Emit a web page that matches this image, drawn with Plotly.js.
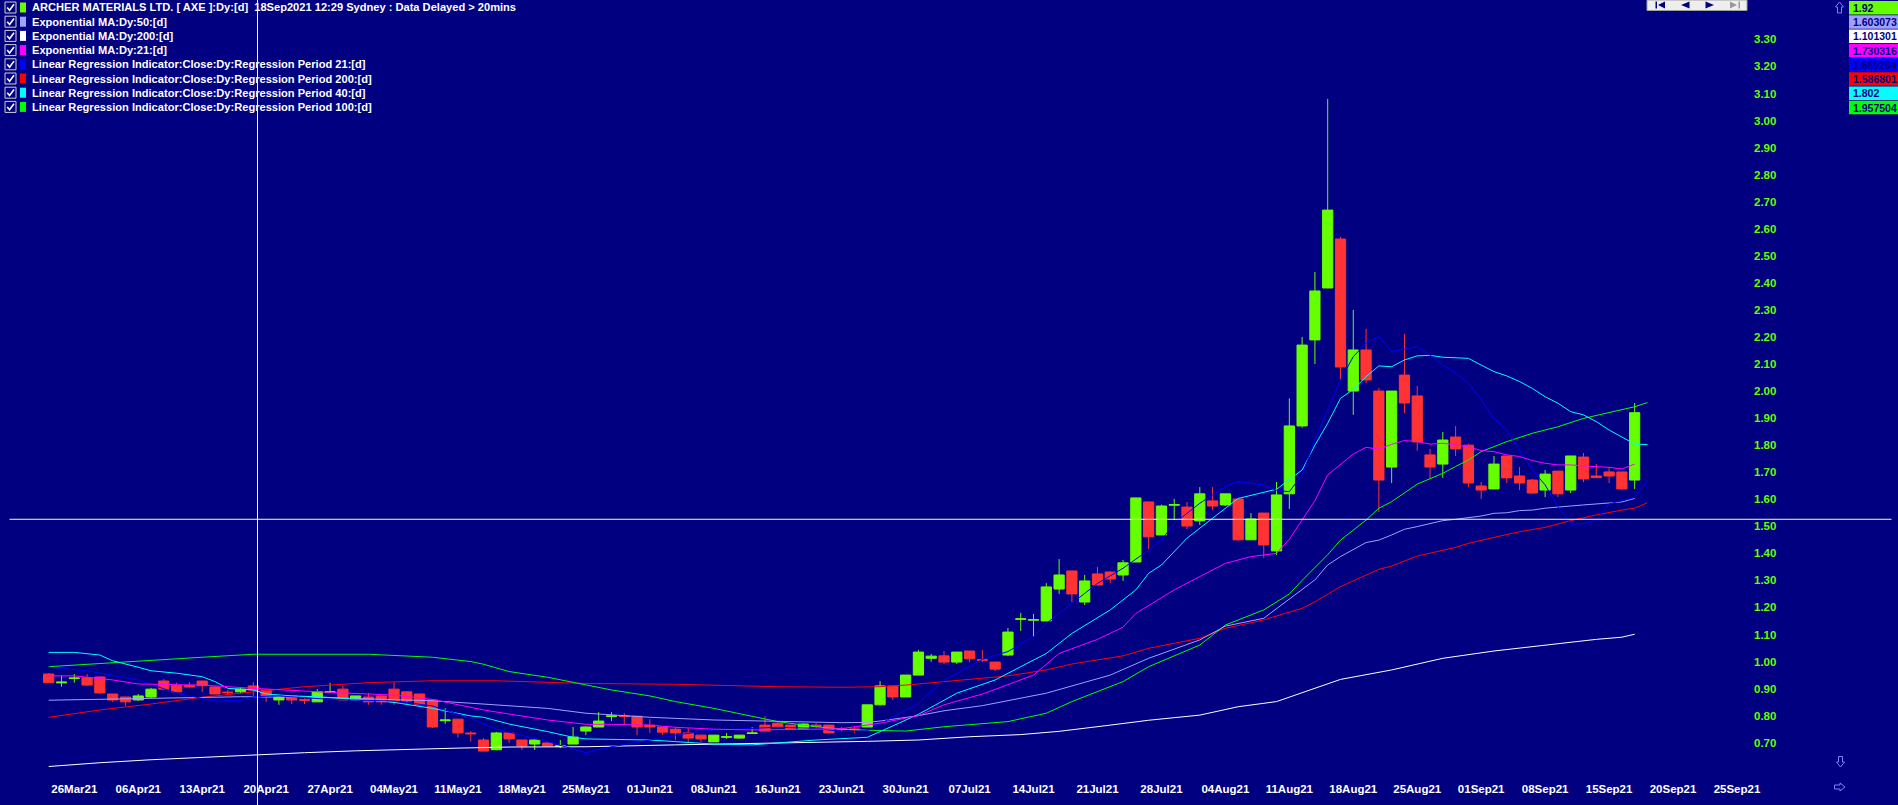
<!DOCTYPE html>
<html><head><meta charset="utf-8">
<script src="https://cdn.plot.ly/plotly-3.0.1.min.js"></script>
<style>html,body{margin:0;padding:0;background:#000080;overflow:hidden}</style>
</head><body><div id="chart" style="width:1898px;height:805px"></div>
<script>
// ---------- DATA ----------
const openP = [0.954,0.921,0.937,0.940,0.943,0.880,0.869,0.858,0.869,0.928,0.911,0.911,0.928,0.906,0.887,0.888,0.910,0.895,0.858,0.873,0.859,0.851,0.886,0.898,0.858,0.869,0.873,0.898,0.888,0.880,
0.858,0.781,0.787,0.736,0.710,0.674,0.736,0.710,0.695,0.699,0.686,0.695,0.743,0.758,0.797,0.799,0.798,0.765,0.758,0.750,0.736,0.728,0.703,0.720,0.717,0.734,0.765,0.772,0.765,0.750,
0.765,0.765,0.751,0.751,0.758,0.840,0.910,0.869,0.950,1.012,1.021,0.998,1.039,1.007,0.998,1.024,1.156,1.153,1.150,1.268,1.335,1.220,1.324,1.331,1.320,1.368,1.590,1.468,1.578,1.571,
1.520,1.594,1.579,1.601,1.450,1.549,1.409,1.620,1.871,2.189,2.381,2.562,2.000,2.152,2.000,1.719,2.059,1.982,1.764,1.730,1.830,1.800,1.649,1.638,1.760,1.686,1.671,1.634,1.704,1.634,
1.756,1.686,1.701,1.701,1.671];
const highP = [0.958,0.948,0.954,0.954,0.945,0.880,0.869,0.880,0.903,0.935,0.922,0.924,0.929,0.908,0.895,0.906,0.924,0.896,0.870,0.875,0.873,0.898,0.921,0.910,0.873,0.884,0.875,0.924,0.888,0.880,
0.858,0.828,0.787,0.743,0.717,0.740,0.736,0.710,0.711,0.703,0.710,0.758,0.760,0.813,0.813,0.810,0.800,0.787,0.758,0.758,0.754,0.728,0.728,0.736,0.728,0.758,0.798,0.780,0.765,0.772,
0.772,0.765,0.758,0.758,0.840,0.928,0.910,0.950,1.043,1.028,1.039,1.035,1.039,1.043,0.998,1.124,1.180,1.176,1.290,1.379,1.335,1.320,1.350,1.335,1.376,1.605,1.592,1.580,1.601,1.590,
1.645,1.645,1.620,1.601,1.549,1.549,1.664,1.973,2.200,2.440,3.080,2.570,2.300,2.230,2.011,2.000,2.211,2.019,1.786,1.849,1.871,1.805,1.664,1.760,1.760,1.719,1.675,1.708,1.704,1.760,
1.771,1.730,1.719,1.701,1.956];
const lowP = [0.922,0.907,0.922,0.911,0.880,0.851,0.836,0.854,0.865,0.896,0.888,0.905,0.888,0.880,0.879,0.882,0.873,0.851,0.840,0.843,0.843,0.851,0.886,0.858,0.854,0.840,0.840,0.840,0.840,0.838,
0.754,0.770,0.719,0.704,0.669,0.672,0.699,0.673,0.673,0.686,0.680,0.695,0.728,0.758,0.780,0.769,0.728,0.736,0.728,0.710,0.699,0.703,0.703,0.714,0.714,0.732,0.743,0.754,0.750,0.750,
0.750,0.736,0.739,0.736,0.758,0.838,0.858,0.869,0.950,0.999,0.991,0.991,0.998,0.998,0.965,1.020,1.113,1.091,1.150,1.250,1.220,1.209,1.283,1.290,1.298,1.368,1.416,1.468,1.523,1.490,
1.505,1.560,1.575,1.447,1.450,1.383,1.394,1.564,1.864,2.100,2.381,2.041,1.912,2.030,1.553,1.660,1.919,1.779,1.675,1.679,1.760,1.645,1.601,1.638,1.660,1.634,1.620,1.608,1.608,1.623,
1.664,1.679,1.660,1.634,1.638];
const closeP = [0.922,0.924,0.939,0.913,0.884,0.858,0.851,0.873,0.898,0.898,0.888,0.906,0.911,0.880,0.885,0.898,0.895,0.869,0.869,0.858,0.857,0.888,0.888,0.858,0.873,0.851,0.851,0.851,0.854,0.840,
0.758,0.784,0.736,0.733,0.669,0.736,0.714,0.688,0.710,0.688,0.688,0.721,0.758,0.780,0.799,0.797,0.758,0.758,0.739,0.736,0.717,0.714,0.728,0.722,0.728,0.736,0.743,0.758,0.750,0.769,
0.760,0.736,0.749,0.748,0.840,0.910,0.869,0.950,1.035,1.020,0.998,1.035,1.010,1.005,0.972,1.109,1.158,1.155,1.276,1.320,1.250,1.298,1.283,1.305,1.365,1.605,1.461,1.575,1.580,1.501,
1.620,1.575,1.620,1.450,1.527,1.431,1.616,1.871,2.170,2.370,2.669,2.089,2.152,2.041,1.671,2.000,1.956,1.812,1.719,1.819,1.786,1.660,1.634,1.730,1.679,1.660,1.623,1.693,1.620,1.760,
1.675,1.680,1.686,1.638,1.920];

const ema50X = [0,7,15,20,25,30,33,36,39,42,47,52,57,62,64,65,68,70,73,78,83,86,90,92,95,97,98,99,100,101,103,104,105,106,107,108,109,110,111,112,113,114,115,116,117,118,119,120,121,122,123,124];
const ema50Y = [0.857,0.863,0.870,0.869,0.863,0.855,0.846,0.836,0.827,0.809,0.794,0.784,0.778,0.774,0.775,0.780,0.800,0.818,0.837,0.883,0.950,1.012,1.080,1.131,1.160,1.230,1.265,1.302,1.357,1.388,1.440,1.449,1.468,1.489,1.499,1.511,1.521,1.526,1.533,1.538,1.548,1.550,1.558,1.560,1.567,1.570,1.575,1.579,1.583,1.585,1.590,1.603];

const ema200X = [0,4,8,12,16,20,24,28,32,36,42,49,57,62,64,68,72,76,79,83,86,90,93,96,98,101,105,109,113,117,121,123,124];
const ema200Y = [0.612,0.626,0.637,0.646,0.655,0.663,0.670,0.676,0.680,0.684,0.685,0.692,0.698,0.704,0.705,0.710,0.722,0.730,0.742,0.765,0.783,0.802,0.833,0.852,0.885,0.934,0.969,1.012,1.039,1.061,1.082,1.090,1.101];

const ema21X = [0,2,5,7,12,16,22,27,30,33,34,36,39,42,44,47,49,52,55,60,62,65,68,70,73,74,77,79,82,84,85,88,90,92,94,96,97,98,99,100,101,102,103,104,105,106,107,108,109,110,111,112,113,114,115,116,117,118,119,120,121,122,123,124];
const ema21Y = [0.947,0.947,0.932,0.917,0.913,0.901,0.886,0.876,0.860,0.830,0.821,0.806,0.784,0.768,0.768,0.765,0.757,0.750,0.747,0.750,0.752,0.772,0.800,0.840,0.880,0.897,0.950,1.030,1.082,1.127,1.178,1.265,1.314,1.363,1.388,1.400,1.452,1.523,1.595,1.690,1.727,1.767,1.792,1.785,1.803,1.817,1.813,1.804,1.807,1.801,1.794,1.780,1.776,1.764,1.758,1.743,1.733,1.727,1.727,1.723,1.721,1.718,1.712,1.730];

const lr21X = [0,3,7,10,13,15,16,18,22,27,30,33,35,39,42,44,47,49,52,55,57,60,62,64,66,68,70,73,75,77,78,80,82,84,86,87,88,90,91,92,93,95,96,97,98,99,100,101,102,103,104,105,107,108,109,110,111,112,113,114,115,116,117,118,119,120,121,122,123,124,125];
const lr21Y = [0.979,0.966,0.932,0.883,0.854,0.856,0.870,0.873,0.860,0.854,0.836,0.790,0.750,0.704,0.663,0.685,0.710,0.728,0.747,0.753,0.757,0.753,0.741,0.744,0.796,0.846,0.930,1.008,1.037,1.092,1.141,1.215,1.289,1.345,1.412,1.449,1.511,1.585,1.616,1.647,1.665,1.653,1.633,1.628,1.690,1.819,1.930,2.041,2.127,2.177,2.201,2.146,2.164,2.133,2.096,2.066,2.029,1.967,1.899,1.856,1.782,1.708,1.653,1.573,1.507,1.511,1.521,1.583,1.595,1.607,1.669];

const lr200X = [0,4,8,12,16,20,25,30,35,42,49,57,62,65,67,70,73,75,78,80,84,86,90,92,95,97,98,99,101,104,105,107,110,111,112,113,115,117,119,121,123,124,125];
const lr200Y = [0.794,0.821,0.843,0.868,0.888,0.907,0.922,0.929,0.929,0.919,0.916,0.907,0.905,0.907,0.913,0.925,0.938,0.947,0.969,0.991,1.021,1.049,1.086,1.123,1.154,1.184,1.197,1.221,1.277,1.341,1.353,1.390,1.422,1.437,1.447,1.459,1.480,1.496,1.521,1.542,1.560,1.567,1.587];

const lr40X = [0,2,4,5,7,8,10,12,13,14,16,17,19,21,25,27,30,33,34,36,39,41,42,47,52,55,60,62,64,66,68,71,74,76,78,80,83,85,86,87,89,91,93,96,98,99,100,101,102,103,104,105,106,107,108,109,111,112,113,114,115,116,117,118,119,120,121,122,123,124,125];
const lr40Y = [1.034,1.034,1.024,1.003,0.979,0.966,0.957,0.944,0.926,0.901,0.895,0.880,0.873,0.870,0.858,0.849,0.827,0.799,0.794,0.769,0.741,0.720,0.714,0.710,0.695,0.692,0.710,0.716,0.720,0.762,0.805,0.883,0.932,0.981,1.030,1.104,1.191,1.265,1.326,1.357,1.456,1.530,1.603,1.637,1.708,1.800,1.881,1.973,2.006,2.053,2.093,2.090,2.115,2.130,2.132,2.125,2.121,2.096,2.072,2.056,2.035,2.010,1.979,1.955,1.924,1.912,1.887,1.856,1.831,1.804,1.802];

const lr100X = [0,4,8,12,16,25,30,33,34,36,39,42,44,47,49,52,55,57,60,62,64,67,70,73,75,78,80,84,86,90,92,95,96,97,98,100,101,103,104,105,107,108,109,110,111,112,114,116,118,120,122,124,125];
const lr100Y = [0.981,0.993,1.006,1.016,1.027,1.027,1.016,1.000,0.990,0.963,0.942,0.913,0.895,0.873,0.852,0.827,0.799,0.778,0.759,0.750,0.746,0.743,0.759,0.772,0.778,0.809,0.852,0.926,0.981,1.061,1.135,1.191,1.219,1.250,1.300,1.395,1.449,1.523,1.567,1.591,1.656,1.677,1.696,1.721,1.745,1.776,1.813,1.844,1.868,1.899,1.920,1.942,1.9575];

const legendNames = [
  "ARCHER MATERIALS LTD. [ AXE ]:Dy:[d]\u00a0 18Sep2021 12:29 Sydney : Data Delayed &gt; 20mins",
  "Exponential MA:Dy:50:[d]",
  "Exponential MA:Dy:200:[d]",
  "Exponential MA:Dy:21:[d]",
  "Linear Regression Indicator:Close:Dy:Regression Period 21:[d]",
  "Linear Regression Indicator:Close:Dy:Regression Period 200:[d]",
  "Linear Regression Indicator:Close:Dy:Regression Period 40:[d]",
  "Linear Regression Indicator:Close:Dy:Regression Period 100:[d]"
];
const lastValues = ["1.92","1.603073","1.101301","1.730316","1.669264","1.586801","1.802","1.957504"];
const xTickLabels = ["26Mar21","06Apr21","13Apr21","20Apr21","27Apr21","04May21","11May21","18May21","25May21","01Jun21","08Jun21","16Jun21","23Jun21","30Jun21","07Jul21","14Jul21","21Jul21","28Jul21","04Aug21","11Aug21","18Aug21","25Aug21","01Sep21","08Sep21","15Sep21","20Sep21","25Sep21"];
const yTickVals = [0.70,0.80,0.90,1.00,1.10,1.20,1.30,1.40,1.50,1.60,1.70,1.80,1.90,2.00,2.10,2.20,2.30,2.40,2.50,2.60,2.70,2.80,2.90,3.00,3.10,3.20,3.30];
const crossPrice = 1.526;

// ---------- STYLE / LAYOUT ----------
const seriesColors = ['#66FF00','#A0A0FF','#FFFFFF','#FF00FF','#0000FF','#FF0000','#00FFFF','#00FF00'];
const FW = 1898, FH = 805, ML = 0, MR = 150, MT = 0, MB = 30;
const PW = FW - ML - MR, PH = FH - MT - MB;
const px = x => (x - ML) / PW;
const py = y => 1 - (y - MT) / PH;
const path = pts => pts.map((p, i) => (i ? 'L' : 'M') + px(p[0]).toFixed(5) + ',' + py(p[1]).toFixed(5)).join(' ') + ' Z';
const pathOpen = pts => pts.map((p, i) => (i ? 'L' : 'M') + px(p[0]).toFixed(5) + ',' + py(p[1]).toFixed(5)).join(' ');

const idx = openP.map((_, i) => i);
const spacing = 12.79, firstPx = 48.7;
const xr0 = -firstPx / spacing, xr1 = xr0 + PW / spacing;

function lineTrace(x, y, color) {
  return {type: 'scatter', mode: 'lines', x: x, y: y, line: {color: color, width: 1}, hoverinfo: 'skip'};
}
const traces = [
  lineTrace(ema200X, ema200Y, seriesColors[2]),
  lineTrace(lr200X, lr200Y, seriesColors[5]),
  lineTrace(lr100X, lr100Y, seriesColors[7]),
  lineTrace(ema50X, ema50Y, seriesColors[1]),
  lineTrace(lr40X, lr40Y, seriesColors[6]),
  lineTrace(lr21X, lr21Y, seriesColors[4]),
  lineTrace(ema21X, ema21Y, seriesColors[3]),
  {type: 'candlestick', x: idx, open: openP, high: highP, low: lowP, close: closeP,
   increasing: {line: {color: '#66FF00', width: 1}, fillcolor: '#66FF00'},
   decreasing: {line: {color: '#FF3333', width: 1}, fillcolor: '#FF3333'},
   whiskerwidth: 0, hoverinfo: 'skip'}
];

const shapes = [], annotations = [];
// crosshair
shapes.push({type: 'line', xref: 'paper', yref: 'paper', x0: px(257.5), x1: px(257.5), y0: py(FH), y1: py(0), line: {color: '#FFFFC8', width: 1}});
shapes.push({type: 'line', xref: 'paper', yref: 'y', x0: px(9.5), x1: px(1891.5), y0: crossPrice, y1: crossPrice, line: {color: '#FFFFC8', width: 1}});

// legend rows
legendNames.forEach((name, k) => {
  const yc = 7.5 + 14.2 * k;
  shapes.push({type: 'rect', xref: 'paper', yref: 'paper', x0: px(5), x1: px(16), y0: py(yc + 5.5), y1: py(yc - 5.5), line: {color: '#D0D0D0', width: 1}, fillcolor: 'rgba(0,0,0,0)'});
  shapes.push({type: 'path', xref: 'paper', yref: 'paper', path: pathOpen([[7.2, yc], [9.6, yc + 2.8], [14, yc - 3.2]]), line: {color: '#FFFFFF', width: 1.6}});
  shapes.push({type: 'rect', xref: 'paper', yref: 'paper', x0: px(20), x1: px(26), y0: py(yc + 5), y1: py(yc - 5), line: {width: 0}, fillcolor: seriesColors[k]});
  annotations.push({xref: 'paper', yref: 'paper', x: px(30), y: py(yc), xanchor: 'left', yanchor: 'middle', showarrow: false, text: name,
    font: {family: 'Liberation Sans, Arial, sans-serif', size: 11.1, color: '#FFFFFF', weight: 'bold'}});
});

// value boxes
lastValues.forEach((v, k) => {
  const y0 = 1 + 14.25 * k, y1 = y0 + 13.6;
  shapes.push({type: 'rect', xref: 'paper', yref: 'paper', x0: px(1849), x1: px(1898), y0: py(y1), y1: py(y0), line: {width: 0}, fillcolor: seriesColors[k]});
  annotations.push({xref: 'paper', yref: 'paper', x: px(1851.5), y: py((y0 + y1) / 2), xanchor: 'left', yanchor: 'middle', showarrow: false, text: v,
    font: {family: 'Liberation Sans, Arial, sans-serif', size: 10.5, color: '#000080', weight: 'bold'}});
});

// navigation panel
shapes.push({type: 'rect', xref: 'paper', yref: 'paper', x0: px(1647), x1: px(1747), y0: py(10.5), y1: py(0), line: {color: '#A0A0A0', width: 1}, fillcolor: '#EEEEEE'});
shapes.push({type: 'rect', xref: 'paper', yref: 'paper', x0: px(1655.5), x1: px(1657), y0: py(8.5), y1: py(1.5), line: {width: 0}, fillcolor: '#000080'});
shapes.push({type: 'path', xref: 'paper', yref: 'paper', path: path([[1665, 1.5], [1658, 5], [1665, 8.5]]), line: {width: 0}, fillcolor: '#000080'});
shapes.push({type: 'path', xref: 'paper', yref: 'paper', path: path([[1689.5, 1.5], [1681, 5], [1689.5, 8.5]]), line: {width: 0}, fillcolor: '#000080'});
shapes.push({type: 'path', xref: 'paper', yref: 'paper', path: path([[1705.5, 1.5], [1714, 5], [1705.5, 8.5]]), line: {width: 0}, fillcolor: '#000080'});
shapes.push({type: 'path', xref: 'paper', yref: 'paper', path: path([[1730, 1.5], [1737, 5], [1730, 8.5]]), line: {width: 0}, fillcolor: '#9A9A9A'});
shapes.push({type: 'rect', xref: 'paper', yref: 'paper', x0: px(1738.5), x1: px(1740), y0: py(8.5), y1: py(1.5), line: {width: 0}, fillcolor: '#9A9A9A'});

// scroll arrows
const arrowLine = {color: '#8080FF', width: 1};
shapes.push({type: 'path', xref: 'paper', yref: 'paper', line: arrowLine, fillcolor: 'rgba(0,0,0,0)',
  path: path([[1839.5, 2], [1843.5, 7], [1841.5, 7], [1841.5, 13], [1837.5, 13], [1837.5, 7], [1835.5, 7]])});
shapes.push({type: 'path', xref: 'paper', yref: 'paper', line: arrowLine, fillcolor: 'rgba(0,0,0,0)',
  path: path([[1840.5, 767], [1844.5, 762], [1842.5, 762], [1842.5, 756.5], [1838.5, 756.5], [1838.5, 762], [1836.5, 762]])});
shapes.push({type: 'path', xref: 'paper', yref: 'paper', line: arrowLine, fillcolor: 'rgba(0,0,0,0)',
  path: path([[1845, 787], [1840, 783], [1840, 785], [1834.5, 785], [1834.5, 789], [1840, 789], [1840, 791]])});

const layout = {
  width: FW, height: FH,
  margin: {l: ML, r: MR, t: MT, b: MB, pad: 0},
  paper_bgcolor: '#000080', plot_bgcolor: '#000080',
  showlegend: false, hovermode: false,
  boxgap: 0.2, boxgroupgap: 0,
  xaxis: {range: [xr0, xr1], showgrid: false, zeroline: false, showline: false, ticks: '',
    rangeslider: {visible: false}, tickangle: 0, automargin: false, ticklabelstandoff: 5,
    tickmode: 'array', tickvals: xTickLabels.map((_, k) => 2 + 5 * k), ticktext: xTickLabels,
    tickfont: {family: 'Liberation Sans, Arial, sans-serif', size: 11.5, color: '#FFFFFF', weight: 'bold'}},
  yaxis: {range: [0.5806, 3.4457], side: 'right', showgrid: false, zeroline: false, showline: false, ticks: '', automargin: false,
    ticklabelstandoff: 5,
    tickmode: 'array', tickvals: yTickVals, ticktext: yTickVals.map(v => v.toFixed(2)),
    tickfont: {family: 'Liberation Sans, Arial, sans-serif', size: 11.5, color: '#66FF00', weight: 'bold'}},
  shapes: shapes, annotations: annotations
};
Plotly.newPlot('chart', traces, layout, {staticPlot: true, displayModeBar: false});
</script>
</body></html>
